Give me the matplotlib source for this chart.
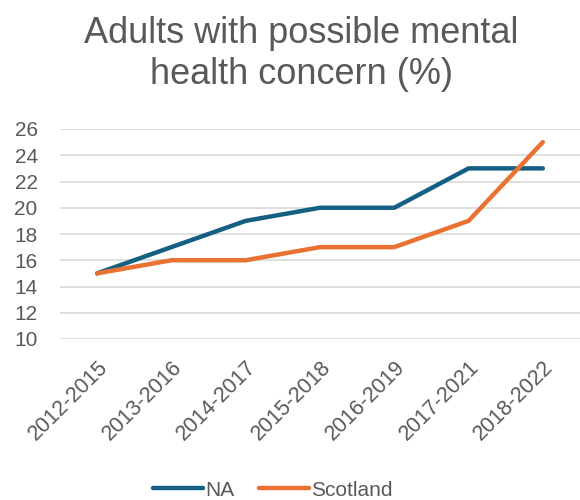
import matplotlib

matplotlib.use("Agg")
import matplotlib.pyplot as plt

periods = ["2012-2015", "2013-2016", "2014-2017", "2015-2018", "2016-2019", "2017-2021", "2018-2022"]
na_values = [15, 17, 19, 20, 20, 23, 23]
scotland_values = [15, 16, 16, 17, 17, 19, 25]
y_ticks = [10, 12, 14, 16, 18, 20, 22, 24, 26]

TEXT = "#595959"
GRID = "#d9d9d9"
plt.rcParams["font.family"] = ["Liberation Sans", "DejaVu Sans"]

fig = plt.figure(figsize=(5.8, 5.0), dpi=100)
ax = fig.add_axes([0.1034, 0.322, 0.8966, 0.42])

x = list(range(len(periods)))
ax.plot(x, na_values, color="#156082", lw=3.2, solid_capstyle="round", solid_joinstyle="round", label="NA")
ax.plot(x, scotland_values, color="#E97132", lw=3.2, solid_capstyle="round", solid_joinstyle="round", label="Scotland")

ax.set_xlim(-0.5, len(periods) - 0.5)
ax.set_ylim(10, 26)
ax.set_yticks(y_ticks)
ax.set_xticks(x)
ax.set_xticklabels(periods, rotation=45, ha="right", rotation_mode="anchor")
ax.tick_params(length=0, labelsize=15, colors=TEXT)
ax.tick_params(axis="y", pad=16)
ax.tick_params(axis="x", pad=13, labelsize=15.5)
ax.grid(axis="y", color=GRID, lw=1.2)
ax.set_axisbelow(True)
for s in ax.spines.values():
    s.set_visible(False)

fig.text(0.52, 0.892, "Adults with possible mental\nhealth concern (%)", ha="center", va="center",
         fontsize=26, color=TEXT, linespacing=1.25)

fig.legend(loc="center", bbox_to_anchor=(0.47, 0.02), ncol=2, frameon=False, fontsize=15,
           labelcolor=TEXT, handlelength=2.4, handletextpad=0.1, columnspacing=1.2)

fig.savefig("out.png", dpi=100)
